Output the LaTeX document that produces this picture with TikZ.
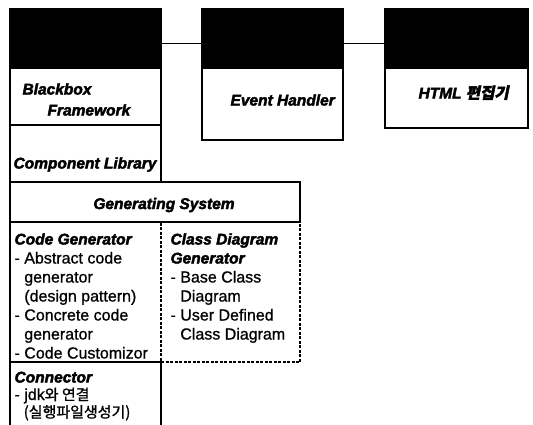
\documentclass[tikz,border=0pt]{standalone}
\usepackage{fontspec}
\setmainfont{Liberation Sans}
\newfontfamily\itemfont[FakeBold=0.9]{Liberation Sans}
\newfontfamily\ttlfont{Liberation Sans}[BoldItalicFeatures={FakeBold=2.5}]
\newfontfamily\kr[FakeBold=1.2]{Noto Sans CJK KR}
\newfontfamily\krbi[FakeSlant=0.2,FakeBold=2.5]{Noto Sans CJK KR}
\tikzset{
  head/.style={draw=black, fill=black, anchor=north west, inner sep=0pt, outer sep=0pt, minimum height=59pt},
  panel/.style={draw=black, anchor=north west, inner sep=0pt, outer sep=0pt},
  dpanel/.style={draw=black, dash pattern=on 3pt off 1.5pt, anchor=north west, inner sep=0pt, outer sep=0pt},
  blank/.style={anchor=north west, inner sep=0pt, outer sep=0pt},
  ttl/.style={font=\ttlfont\fontsize{15.5}{19}\selectfont\bfseries\itshape, inner sep=0pt, anchor=base west},
  item/.style={font=\itemfont\fontsize{16}{19}\selectfont, inner sep=0pt, anchor=base west},
  kitem/.style={font=\itemfont\fontsize{15}{19}\selectfont, inner sep=0pt, anchor=base west},
  link/.style={draw=black, line width=1pt}
}
\begin{document}
\begin{tikzpicture}[x=1pt,y=-1pt,line width=1.1pt]
\useasboundingbox (0,0) rectangle (533,424);
% top boxes
\node[head, minimum width=151pt] (bbhead) at (10,9) {};
\node[panel, minimum width=151pt, minimum height=57pt] (bbbody) at (10,68) {};
\node[panel, minimum width=151pt, minimum height=57pt] (complib) at (10,125) {};
\node[head, minimum width=141pt] (evhead) at (202,9) {};
\node[panel, minimum width=141pt, minimum height=72pt] (evbody) at (202,68) {};
\node[head, minimum width=143pt] (htmlhead) at (385,9) {};
\node[panel, minimum width=143pt, minimum height=60pt] (htmlbody) at (385,68) {};
% generating system
\node[panel, minimum width=290pt, minimum height=40pt] (genhead) at (10,182) {};
\node[dpanel, minimum width=139pt, minimum height=140pt] (classgen) at (161,222) {};
\node[blank, minimum width=151pt, minimum height=140pt] (codegen) at (10,222) {};
\draw (codegen.north east) -- (codegen.north west) -- (codegen.south west) -- (codegen.south east);
% connector box
\node[blank, minimum width=151pt, minimum height=70pt] (conn) at (10,362) {};
\draw (conn.south west) -- (conn.north west) -- (conn.north east) -- (conn.south east);
% links
\draw[link] ([yshift=-4.5pt]bbhead.east) -- ([yshift=-4.5pt]evhead.west);
\draw[link] ([yshift=-4.5pt]evhead.east) -- ([yshift=-4.5pt]htmlhead.west);
% texts
\node[ttl] (bbt1) at (22,94.5) {Blackbox};
\node[ttl] (bbt2) at (47,115.5) {Framework};
\node[ttl] (clt) at (13,168.5) {Component Library};
\node[ttl] (evt) at (230,105.5) {Event Handler};
\node[ttl] (htt) at (418,98.5) {HTML {\krbi 편집기}};
\node[ttl, anchor=base] (gst) at (164,209) {Generating System};
% code generator column
\node[ttl] (cg0) at (14,244.5) {Code Generator};
\foreach \t [count=\i] in {{- Abstract code},{\phantom{- }generator},{\phantom{- }(design pattern)},{- Concrete code},{\phantom{- }generator},{- Code Customizor}}
  \node[item] (cg\i) at (14,{244.5+19*\i}) {\t};
% class diagram column
\node[ttl] (cd0) at (170,244.5) {Class Diagram};
\node[ttl] (cd1) at (170,263.5) {Generator};
\foreach \t [count=\i from 2] in {{- Base Class},{\phantom{- }Diagram},{- User Defined},{\phantom{- }Class Diagram}}
  \node[item] (cd\i) at (170,{244.5+19*\i}) {\t};
% connector column
\node[ttl] (cn0) at (14,382.5) {Connector};
\node[item] (cn1) at (14,400) {- jdk{\kr\fontsize{15}{19}\selectfont 와 연결}};
\node[kitem] (cn2) at (14,417.5) {\phantom{- }{\kr (실행파일생성기)}};
\end{tikzpicture}
\end{document}
